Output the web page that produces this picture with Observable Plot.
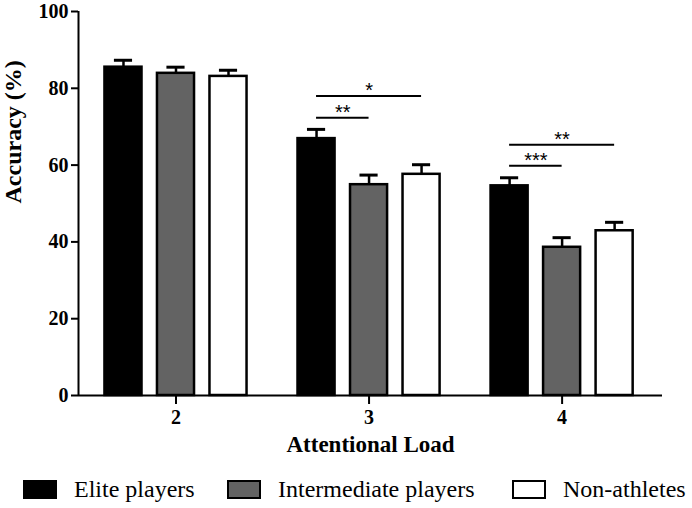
<!DOCTYPE html>
<html>
<head>
<meta charset="utf-8">
<script src="https://cdn.jsdelivr.net/npm/d3@7"></script>
<script src="https://cdn.jsdelivr.net/npm/@observablehq/plot@0.6"></script>
<style>
  html, body { margin: 0; padding: 0; background: #fff; }
  #chart { width: 692px; height: 470px; }
  #legend { position: relative; width: 692px; height: 38px;
            font-family: "Liberation Serif", "Times New Roman", serif; font-size: 24px; color: #000; }
  .item { position: absolute; top: 0; height: 38px; display: flex; align-items: center; white-space: nowrap; }
  .sw { box-sizing: border-box; width: 34px; height: 19px; border: 2.5px solid #000; margin-right: 17px; flex: none; }
</style>
</head>
<body>
<div id="chart"></div>
<div id="legend"></div>
<script>
// ---- data ----
const loads = [2, 3, 4];
const groups = ["Elite players", "Intermediate players", "Non-athletes"];
const eliteMean = [85.5, 66.9, 54.6];
const eliteSem = [1.8, 2.4, 2.1];
const intermediateMean = [83.9, 54.9, 38.6];
const intermediateSem = [1.6, 2.5, 2.5];
const nonAthleteMean = [83.1, 57.6, 42.9];
const nonAthleteSem = [1.6, 2.5, 2.2];
const yTicks = [0, 20, 40, 60, 80, 100];

// significance comparisons
const sigLoad = [3, 3, 4, 4];
const sigFrom = ["Elite players", "Elite players", "Elite players", "Elite players"];
const sigTo = ["Non-athletes", "Intermediate players", "Non-athletes", "Intermediate players"];
const sigLevel = [78.0, 72.3, 65.3, 59.8];
const sigLabel = ["*", "**", "**", "***"];

// ---- styling / layout ----
const groupFills = ["#000000", "#636363", "#ffffff"];
const legendLefts = [23, 227, 512];
const xDomain = [1.495, 4.52];
const barStep = 0.272;     // offset between bars within a load group (x units)
const barHalf = 0.096;     // half bar width (x units)
const capHalf = 0.047;     // half error-cap width (x units)
const serif = "'Liberation Serif', 'Times New Roman', serif";

const means = [eliteMean, intermediateMean, nonAthleteMean];
const sems = [eliteSem, intermediateSem, nonAthleteSem];
const xPos = (load, group) => load + (groups.indexOf(group) - 1) * barStep;

const rows = [];
groups.forEach((g, gi) => loads.forEach((l, li) => {
  rows.push({load: l, group: g, mean: means[gi][li], sem: sems[gi][li], xc: xPos(l, g)});
}));
const sig = sigLoad.map((l, i) => ({
  x1: xPos(l, sigFrom[i]), x2: xPos(l, sigTo[i]), y: sigLevel[i], label: sigLabel[i]
}));

const chart = Plot.plot({
  width: 692,
  height: 470,
  marginLeft: 78,
  marginRight: 30,
  marginTop: 11,
  marginBottom: 75,
  style: {fontFamily: serif, fontSize: "20px", fontWeight: "bold", background: "#fff", color: "#000", overflow: "visible"},
  x: {domain: xDomain},
  y: {domain: [0, 100]},
  color: {domain: groups, range: groupFills},
  marks: [
    Plot.rect(rows, {x1: d => d.xc - barHalf, x2: d => d.xc + barHalf, y1: 0, y2: "mean",
      fill: "group", stroke: "#000", strokeWidth: 2.5}),
    Plot.ruleX(rows, {x: "xc", y1: "mean", y2: d => d.mean + d.sem, stroke: "#000", strokeWidth: 2.5}),
    Plot.ruleY(rows, {y: d => d.mean + d.sem, x1: d => d.xc - capHalf, x2: d => d.xc + capHalf,
      stroke: "#000", strokeWidth: 3}),
    Plot.ruleY(sig, {y: "y", x1: "x1", x2: "x2", stroke: "#000", strokeWidth: 2}),
    Plot.text(sig, {x: d => (d.x1 + d.x2) / 2, y: "y", text: "label", dy: -5,
      fontFamily: "'Liberation Sans', Arial, sans-serif", fontSize: 20, fontWeight: "normal", fill: "#000"}),
    Plot.ruleX([xDomain[0]], {y1: 0, y2: 100, stroke: "#000", strokeWidth: 2}),
    Plot.ruleY([0], {stroke: "#000", strokeWidth: 2}),
    Plot.axisY({ticks: yTicks, tickSize: 7, tickPadding: 3, fontSize: 20, fontWeight: "bold",
      fontFamily: serif, strokeWidth: 2, label: null}),
    Plot.axisX({ticks: loads, tickFormat: d => String(d), tickSize: 9, tickPadding: 5,
      fontSize: 20, fontWeight: "bold", fontFamily: serif, strokeWidth: 2, label: null}),
    Plot.text(["Accuracy (%)"], {frameAnchor: "left", rotate: -90, dx: -65, fontSize: 24,
      fontFamily: serif, fontWeight: "bold", fill: "#000"}),
    Plot.text(["Attentional Load"], {frameAnchor: "bottom", dy: 56, fontSize: 23,
      fontFamily: serif, fontWeight: "bold", fill: "#000"})
  ]
});
document.getElementById("chart").appendChild(chart);

const legend = document.getElementById("legend");
groups.forEach((g, i) => {
  const item = document.createElement("div");
  item.className = "item";
  item.style.left = legendLefts[i] + "px";
  const sw = document.createElement("span");
  sw.className = "sw";
  sw.style.background = groupFills[i];
  const t = document.createElement("span");
  t.textContent = g;
  item.appendChild(sw);
  item.appendChild(t);
  legend.appendChild(item);
});
</script>
</body>
</html>
